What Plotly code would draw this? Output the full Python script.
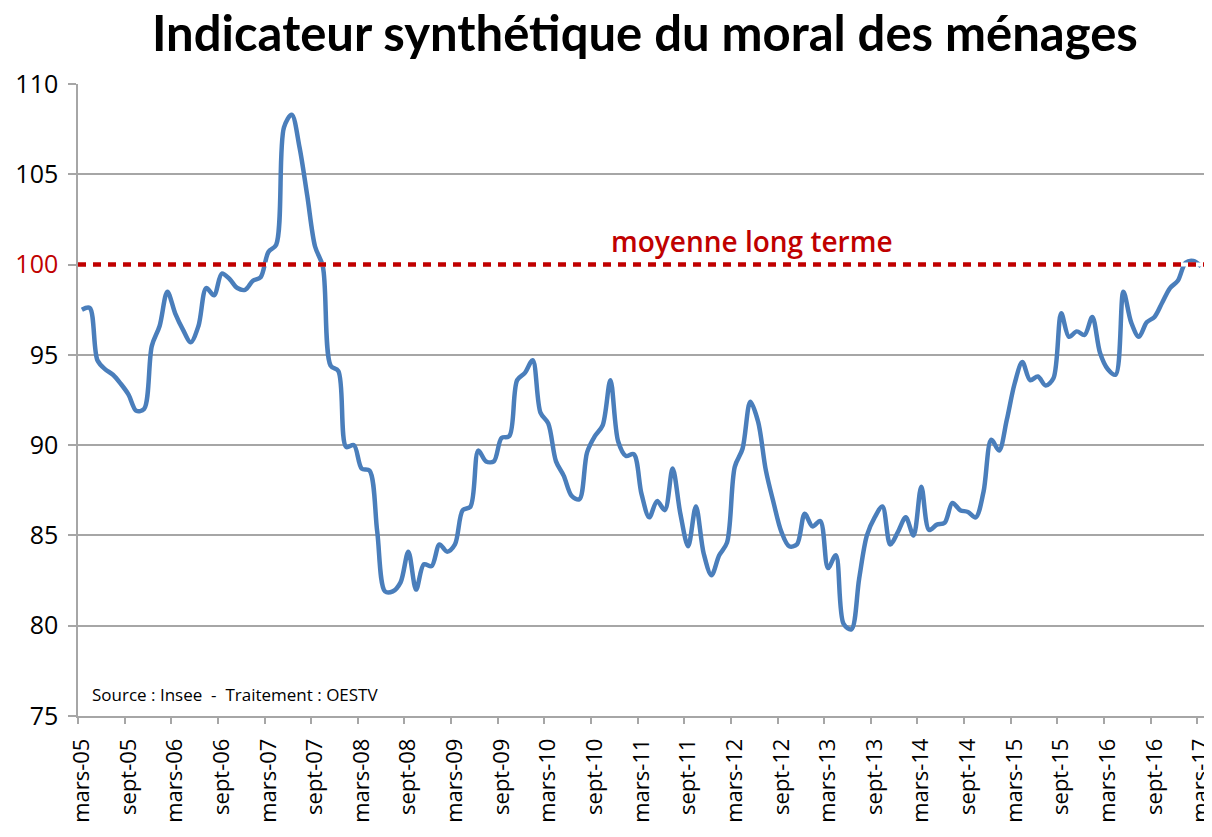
import plotly.graph_objects as go

# ---- data ----
month_names = ["janv", "févr", "mars", "avr", "mai", "juin", "juil", "août", "sept", "oct", "nov", "déc"]
start_year = 2005
start_month_index = 2  # mars
n_months = 145

values = [
    97.5, 97.6, 94.7, 94.2, 93.9, 93.4, 92.8, 91.9, 92.0, 95.5,
    96.6, 98.5, 97.3, 96.4, 95.7, 96.6, 98.7, 98.3, 99.5, 99.2,
    98.7, 98.6, 99.1, 99.3, 100.7, 101.1, 107.6, 108.3, 106.5, 103.8,
    101.0, 99.9, 94.4, 94.1, 89.9, 90.0, 88.7, 88.6, 85.2, 81.9,
    81.9, 82.4, 84.1, 82.0, 83.4, 83.3, 84.5, 84.1, 84.5, 86.4,
    86.6, 89.7, 89.1, 89.1, 90.4, 90.5, 93.6, 94.0, 94.7, 91.8,
    91.2, 89.1, 88.3, 87.2, 87.0, 89.6, 90.5, 91.1, 93.6, 90.2,
    89.4, 89.5, 87.3, 86.0, 86.9, 86.4, 88.7, 86.2, 84.4, 86.6,
    84.0, 82.8, 83.9, 84.6, 88.8, 89.8, 92.4, 91.3, 88.6, 86.8,
    85.2, 84.4, 84.5, 86.2, 85.5, 85.8, 83.2, 83.9, 80.1, 79.8,
    82.6, 85.0, 86.0, 86.6, 84.5, 85.2, 86.0, 85.0, 87.7, 85.3,
    85.6, 85.7, 86.8, 86.4, 86.3, 86.0, 87.4, 90.3, 89.7, 91.4,
    93.4, 94.6, 93.6, 93.8, 93.3, 93.7, 97.3, 96.0, 96.3, 96.1,
    97.1, 95.1, 94.2, 93.9, 98.5, 96.8, 96.0, 96.8, 97.1, 97.9,
    98.7, 99.1, 100.1, 100.2, 99.9,
]

long_term_mean = 100
mean_label = "moyenne long terme"
y_ticks = [75, 80, 85, 90, 95, 100, 105, 110]
title_text = "Indicateur synthétique du moral des ménages"
source_text = "Source : Insee  -  Traitement : OESTV"

# category labels, e.g. "mars-05"
categories = []
for k in range(n_months):
    mi = (start_month_index + k) % 12
    yr = start_year + (start_month_index + k) // 12
    categories.append(f"{month_names[mi]}-{yr % 100:02d}")

RED = "#c00000"
BLUE = "#4a7ebb"
GRID = "#a6a6a6"

y_ticktext = [
    f'<span style="color:{RED}">{v}</span>' if v == long_term_mean else str(v)
    for v in y_ticks
]

fig = go.Figure()

# long-term mean: white underlay (hides gridline in the gaps) + red dashes,
# on a hidden helper x axis spanning the full plot width
fig.add_trace(go.Scatter(
    x=[0, 1], y=[long_term_mean, long_term_mean], xaxis="x2", yaxis="y",
    mode="lines", line=dict(color="white", width=4),
    hoverinfo="skip", showlegend=False,
))
fig.add_trace(go.Scatter(
    x=[0, 1], y=[long_term_mean, long_term_mean], xaxis="x2", yaxis="y",
    mode="lines", line=dict(color=RED, width=4.5, dash="8px,7px"),
    hoverinfo="skip", showlegend=False,
))

fig.add_trace(go.Scatter(
    x=categories,
    y=values,
    mode="lines",
    line=dict(color=BLUE, width=4.5, shape="spline", smoothing=0.9),
    showlegend=False,
))

fig.update_layout(
    width=1204,
    height=829,
    paper_bgcolor="white",
    plot_bgcolor="white",
    margin=dict(l=70, r=7, t=76, b=121),
    title=dict(
        text=f"<b>{title_text}</b>",
        x=0.529, xanchor="center",
        y=1 - 26 / 829, yanchor="middle",
        font=dict(family="Lato", size=49, color="black"),
    ),
    xaxis=dict(
        type="category",
        categoryorder="array", categoryarray=categories,
        range=[-0.5, n_months - 0.5],
        tickmode="linear", tick0=0, dtick=6,
        tickson="boundaries",
        ticks="outside", ticklen=6, tickwidth=1.5, tickcolor=GRID,
        tickangle=-90,
        ticklabelstandoff=12,
        tickfont=dict(family="Open Sans", size=22, color="black"),
        showgrid=False,
        showline=True, linecolor=GRID, linewidth=1.5,
        zeroline=False,
        automargin=False,
    ),
    xaxis2=dict(
        overlaying="x", range=[0, 1], visible=False, fixedrange=True,
    ),
    yaxis=dict(
        range=[75, 110],
        tickmode="array", tickvals=y_ticks, ticktext=y_ticktext,
        ticks="outside", ticklen=8, tickwidth=1.5, tickcolor=GRID,
        ticklabelstandoff=5,
        tickfont=dict(family="Open Sans", size=25, color="black"),
        showgrid=True, gridcolor=GRID, gridwidth=1.5,
        showline=True, linecolor=GRID, linewidth=1.5,
        zeroline=False,
        automargin=False,
    ),
    annotations=[
        dict(
            text=mean_label,
            x=86.2, y=long_term_mean, xref="x", yref="y",
            xanchor="center", yanchor="bottom", yshift=3,
            showarrow=False,
            font=dict(family="Open Sans", size=28, color=RED, weight=600),
        ),
        dict(
            text=source_text,
            x=0.0106, y=76.2, xref="paper", yref="y",
            xanchor="left", yanchor="middle",
            showarrow=False,
            font=dict(family="Open Sans", size=17, color="black"),
        ),
    ],
)

fig.write_html("out.html")
